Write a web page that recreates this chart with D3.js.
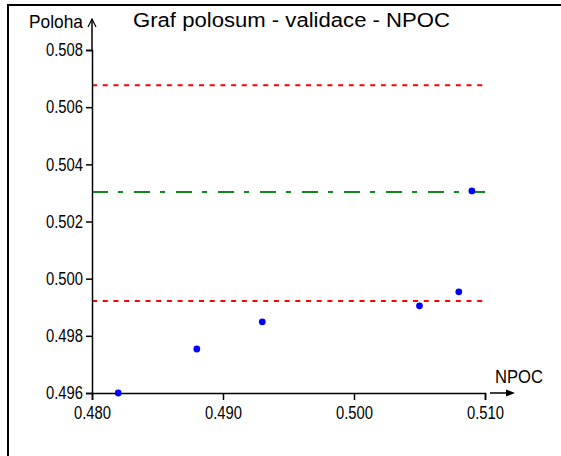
<!DOCTYPE html>
<html><head><meta charset="utf-8">
<script src="https://cdn.jsdelivr.net/npm/d3@7"></script>
<style>
html,body{margin:0;padding:0;background:#fff;}
svg{display:block;}
text{font-family:"Liberation Sans",Arial,sans-serif;fill:#000;}
</style></head>
<body>
<svg id="chart" width="561" height="456"></svg>
<script>
const title = "Graf polosum - validace - NPOC";
const xLabel = "NPOC";
const yLabel = "Poloha";
const xValues = [0.482, 0.488, 0.493, 0.505, 0.508, 0.509];
const yValues = [0.4960, 0.49754, 0.49849, 0.49905, 0.49954, 0.50307];
const xTicks = [0.480, 0.490, 0.500, 0.510];
const yTicks = [0.496, 0.498, 0.500, 0.502, 0.504, 0.506, 0.508];
const upperLimit = 0.50677;
const centerLine = 0.50303;
const lowerLimit = 0.49922;

const svg = d3.select("#chart");
const x = d3.scaleLinear().domain([0.480, 0.510]).range([92, 485]);
const y = d3.scaleLinear().domain([0.496, 0.508]).range([393, 50]);

function squeeze(sel, w) {
  sel.attr("textLength", w).attr("lengthAdjust", "spacingAndGlyphs");
}

// frame
svg.append("path").attr("d","M8,470 L8,5 L570,5").attr("fill","none").attr("stroke","#000").attr("stroke-width",2);

// title
svg.append("text").attr("x",291.5).attr("y",27).attr("text-anchor","middle")
  .style("font-size","20px").text(title).call(squeeze, 317);

// reference lines
const hl = (v, color, dash) => svg.append("line")
  .attr("x1", x(0.480)).attr("x2", x(0.510)).attr("y1", y(v)).attr("y2", y(v))
  .attr("stroke", color).attr("stroke-width", 2).attr("stroke-dasharray", dash);
hl(upperLimit, "#ff0000", "5,5.7");
hl(lowerLimit, "#ff0000", "5,5.7");
hl(centerLine, "#11891a", "16,10,5,11");

// axes
const xAxis = d3.axisBottom(x).tickValues(xTicks).tickFormat(d3.format(".3f")).tickSize(7).tickSizeOuter(7).tickPadding(6);
const yAxis = d3.axisLeft(y).tickValues(yTicks).tickFormat(d3.format(".3f")).tickSize(6).tickSizeOuter(6).tickPadding(3);
const gx = svg.append("g").attr("transform", `translate(0,${y(0.496)})`).call(xAxis);
const gy = svg.append("g").attr("transform", `translate(${x(0.480)},0)`).call(yAxis);
[gx, gy].forEach(g => {
  g.selectAll("path,line").attr("stroke","#000").attr("stroke-width",1.5);
  g.selectAll("text").style("font-size","18px").attr("fill","#000").call(squeeze, 37);
});

// y axis extension and arrow
const ax = x(0.480);
svg.append("line").attr("x1",ax).attr("x2",ax).attr("y1",y(0.508)).attr("y2",19).attr("stroke","#000").attr("stroke-width",1.5);
svg.append("path").attr("d",`M${ax-4},27 L${ax},19 L${ax+4},27`).attr("fill","none").attr("stroke","#000").attr("stroke-width",1.2);
svg.append("text").attr("x",ax-9).attr("y",28).attr("text-anchor","end").style("font-size","19px").text(yLabel).call(squeeze, 54);

// x arrow
const ay = y(0.496);
svg.append("line").attr("x1",490).attr("x2",508).attr("y1",ay).attr("y2",ay).attr("stroke","#000").attr("stroke-width",1.5);
svg.append("path").attr("d",`M506,${ay-3.5} L515,${ay} L506,${ay+3.5} Z`).attr("fill","#000");
svg.append("text").attr("x",519).attr("y",383).attr("text-anchor","middle").style("font-size","19px").text(xLabel).call(squeeze, 48);

// points
svg.append("g").selectAll("circle").data(xValues.map((d,i)=>[d,yValues[i]])).join("circle")
  .attr("cx", d => x(d[0])).attr("cy", d => y(d[1])).attr("r", 3.4).attr("fill","#0000ff");
</script>
</body></html>
